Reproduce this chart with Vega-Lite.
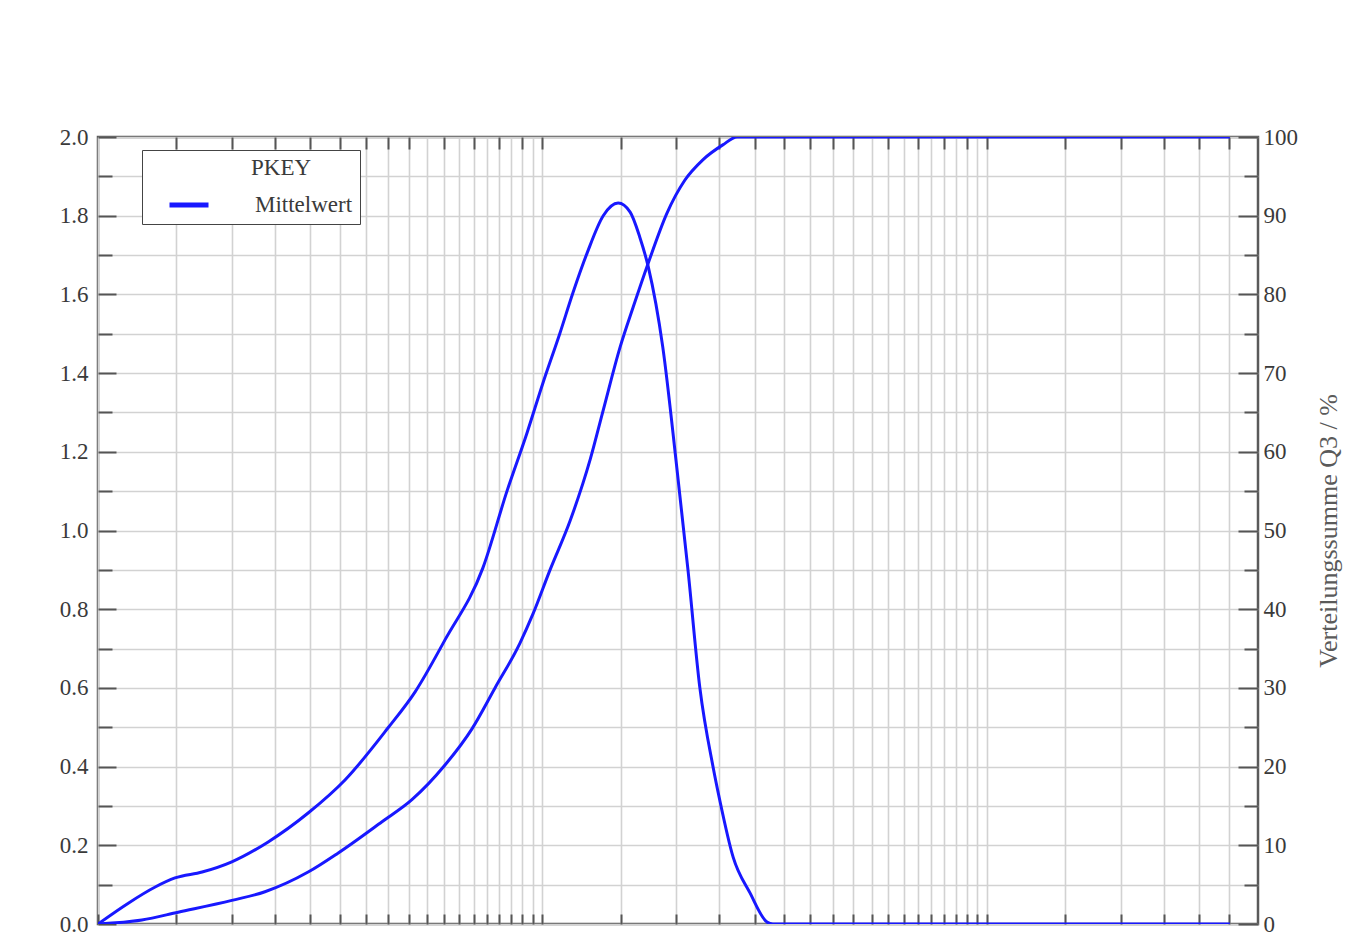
{
  "$schema": "https://vega.github.io/schema/vega-lite/v6.json",
  "autosize": "none",
  "width": 1160,
  "height": 787,
  "padding": {"left": 98, "top": 137, "right": 105, "bottom": 15},
  "background": "white",
  "config": {
    "view": {"stroke": "#5a5a5a", "strokeWidth": 2.5},
    "font": "Liberation Serif",
    "axis": {
      "labelFont": "Liberation Serif",
      "labelFontSize": 23,
      "labelColor": "#3a3a3a",
      "titleFont": "Liberation Serif",
      "titleFontWeight": "normal",
      "gridColor": "#d2d2d2",
      "gridWidth": 1.6,
      "tickColor": "#555555",
      "tickWidth": 2,
      "domain": false
    }
  },
  "datasets": {
    "density": [
      {"d": 2, "q": 0},
      {"d": 2.34, "q": 0.053},
      {"d": 2.69, "q": 0.094},
      {"d": 2.98, "q": 0.117},
      {"d": 3.43, "q": 0.132},
      {"d": 4.0, "q": 0.158},
      {"d": 4.82, "q": 0.208},
      {"d": 5.94, "q": 0.282},
      {"d": 7.19, "q": 0.366},
      {"d": 8.98, "q": 0.498},
      {"d": 10.34, "q": 0.59},
      {"d": 12.07, "q": 0.722},
      {"d": 14.69, "q": 0.905},
      {"d": 16.64, "q": 1.1},
      {"d": 18.46, "q": 1.248},
      {"d": 20.05, "q": 1.375},
      {"d": 21.9, "q": 1.502},
      {"d": 23.4, "q": 1.603},
      {"d": 25.2, "q": 1.705},
      {"d": 27.4, "q": 1.8},
      {"d": 29.6, "q": 1.832},
      {"d": 31.5, "q": 1.809},
      {"d": 33.1, "q": 1.746},
      {"d": 34.6, "q": 1.67},
      {"d": 37.3, "q": 1.466},
      {"d": 40.1, "q": 1.161},
      {"d": 42.5, "q": 0.9},
      {"d": 45.2, "q": 0.6},
      {"d": 48.4, "q": 0.399},
      {"d": 50.1, "q": 0.315},
      {"d": 53.7, "q": 0.17},
      {"d": 58.6, "q": 0.079},
      {"d": 64.0, "q": 0.005},
      {"d": 66.0, "q": 0},
      {"d": 704, "q": 0}
    ],
    "cumulative": [
      {"d": 2, "Q": 0},
      {"d": 2.51, "Q": 0.5},
      {"d": 3.03, "Q": 1.5},
      {"d": 4.0, "Q": 3.0},
      {"d": 4.75, "Q": 4.1},
      {"d": 5.94, "Q": 6.6},
      {"d": 6.93, "Q": 9.0},
      {"d": 8.71, "Q": 13.0},
      {"d": 10.17, "Q": 15.8},
      {"d": 12.07, "Q": 20.2},
      {"d": 13.88, "Q": 24.8},
      {"d": 15.64, "Q": 30.0},
      {"d": 17.8, "Q": 35.7},
      {"d": 19.04, "Q": 39.4},
      {"d": 20.8, "Q": 45.0},
      {"d": 23.1, "Q": 51.3},
      {"d": 25.6, "Q": 59.0},
      {"d": 27.4, "Q": 65.3},
      {"d": 29.9, "Q": 73.3},
      {"d": 32.0, "Q": 78.4},
      {"d": 34.6, "Q": 84.0},
      {"d": 38.1, "Q": 90.3},
      {"d": 41.8, "Q": 94.5},
      {"d": 45.9, "Q": 97.1},
      {"d": 50.9, "Q": 99.0},
      {"d": 54.8, "Q": 100},
      {"d": 704, "Q": 100}
    ]
  },
  "layer": [
    {
      "data": {"name": "density"},
      "mark": {"type": "line", "strokeWidth": 3, "interpolate": "monotone", "clip": true},
      "encoding": {
        "x": {
          "field": "d",
          "type": "quantitative",
          "scale": {"type": "log", "domain": [2, 814.4], "nice": false},
          "axis": {
            "orient": "bottom",
            "title": null,
            "labels": false,
            "grid": true,
            "ticks": true,
            "tickSize": -10,
            "values": [2,3,4,5,6,7,8,9,10,11,12,13,14,15,16,17,18,19,20,30,40,50,60,70,80,90,100,110,120,130,140,150,160,170,180,190,200,300,400,500,600,700]
          }
        },
        "y": {
          "field": "q",
          "type": "quantitative",
          "scale": {"domain": [0, 2], "nice": false},
          "axis": {
            "orient": "left",
            "title": null,
            "grid": true,
            "values": [0,0.1,0.2,0.3,0.4,0.5,0.6,0.7,0.8,0.9,1.0,1.1,1.2,1.3,1.4,1.5,1.6,1.7,1.8,1.9,2.0],
            "labelExpr": "round(datum.value*10) % 2 == 0 ? format(datum.value, '.1f') : ''",
            "tickSize": {"condition": {"test": "round(datum.value*10) % 2 == 0", "value": -18}, "value": -14},
            "labelPadding": 28
          }
        },
        "color": {
          "datum": "Mittelwert",
          "type": "nominal",
          "scale": {"range": ["#1818ff"]},
          "legend": {
            "orient": "none",
            "legendX": 44,
            "legendY": 13,
            "title": "PKEY",
            "titleFont": "Liberation Serif",
            "titleFontSize": 23,
            "titleFontWeight": "normal",
            "titleColor": "#3a3a3a",
            "titleAnchor": "middle",
            "titleAlign": "left",
            "titlePadding": 3,
            "labelFont": "Liberation Serif",
            "labelFontSize": 23,
            "labelColor": "#3a3a3a",
            "symbolType": "stroke",
            "symbolSize": 1521,
            "symbolStrokeWidth": 5,
            "symbolOffset": 18,
            "labelOffset": 44,
            "padding": 7,
            "fillColor": "white",
            "strokeColor": "#444444"
          }
        }
      }
    },
    {
      "data": {"name": "cumulative"},
      "mark": {"type": "line", "strokeWidth": 3, "interpolate": "monotone", "clip": true},
      "encoding": {
        "x": {
          "field": "d",
          "type": "quantitative",
          "axis": {
            "orient": "top",
            "title": null,
            "labels": false,
            "grid": false,
            "ticks": true,
            "tickSize": -12,
            "values": [3,4,5,6,7,8,9,10,12,14,16,18,20,30,40,50,60,70,80,90,100,120,140,160,180,200,300,400,500,600,700]
          }
        },
        "y": {
          "field": "Q",
          "type": "quantitative",
          "scale": {"domain": [0, 100], "nice": false},
          "axis": {
            "orient": "right",
            "title": "Verteilungssumme Q3 / %",
            "titleFontSize": 26,
            "titleColor": "#5a5a5a",
            "titleAngle": 270,
            "titlePadding": 44,
            "grid": false,
            "values": [0,5,10,15,20,25,30,35,40,45,50,55,60,65,70,75,80,85,90,95,100],
            "labelExpr": "datum.value % 10 == 0 ? format(datum.value, 'd') : ''",
            "tickSize": {"condition": {"test": "datum.value % 10 == 0", "value": -20}, "value": -14},
            "labelPadding": 25
          }
        },
        "color": {"datum": "Mittelwert", "type": "nominal"}
      }
    }
  ],
  "resolve": {"scale": {"y": "independent"}}
}
